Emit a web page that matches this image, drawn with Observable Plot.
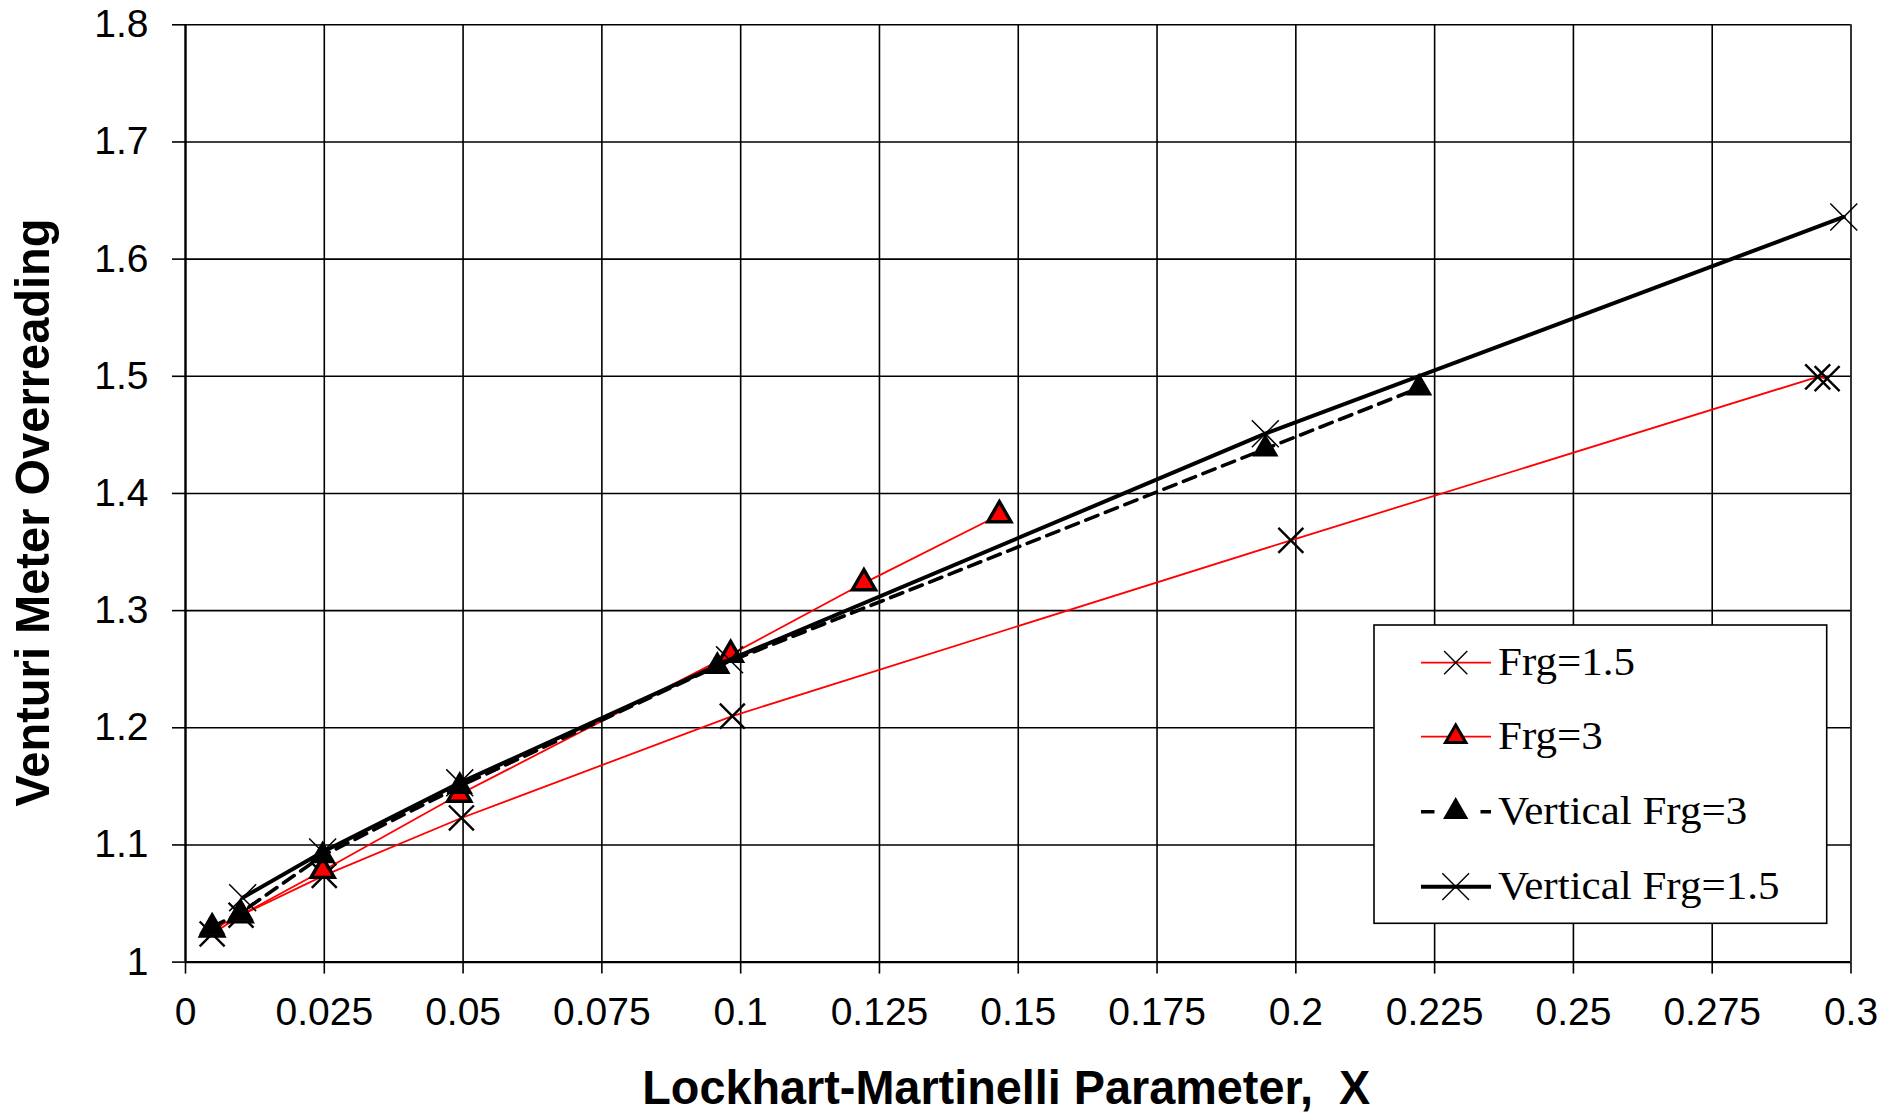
<!DOCTYPE html>
<html><head><meta charset="utf-8">
<script src="https://cdn.jsdelivr.net/npm/d3@7"></script>
<script src="https://cdn.jsdelivr.net/npm/@observablehq/plot@0.6"></script>
<style>
html,body{margin:0;padding:0;background:#fff;}
#wrap{position:relative;width:1901px;height:1114px;overflow:hidden;}
#legend{position:absolute;left:0;top:0;pointer-events:none;}
</style></head><body><div id="wrap"></div>
<script>
// ---- data ----
const xTicks = [0, 0.025, 0.05, 0.075, 0.1, 0.125, 0.15, 0.175, 0.2, 0.225, 0.25, 0.275, 0.3];
const xTickLabels = ["0", "0.025", "0.05", "0.075", "0.1", "0.125", "0.15", "0.175", "0.2", "0.225", "0.25", "0.275", "0.3"];
const yTicks = [1, 1.1, 1.2, 1.3, 1.4, 1.5, 1.6, 1.7, 1.8];
const yTickLabels = ["1", "1.1", "1.2", "1.3", "1.4", "1.5", "1.6", "1.7", "1.8"];
const seriesNames = ["Frg=1.5", "Frg=3", "Vertical Frg=3", "Vertical Frg=1.5"];
const xTitle = "Lockhart-Martinelli Parameter,  X";
const yTitle = "Venturi Meter Overreading";

const frg15X = [0.0048, 0.0100, 0.0250, 0.0497, 0.0985, 0.1991, 0.2940, 0.2957];
const frg15Y = [1.024, 1.040, 1.074, 1.123, 1.210, 1.360, 1.4995, 1.498];

const frg3X = [0.0048, 0.0099, 0.0247, 0.0493, 0.0982, 0.1222, 0.1466];
const frg3Y = [1.028, 1.040, 1.078, 1.143, 1.2624, 1.3235, 1.3816];

const vFrg3X = [0.0048, 0.0099, 0.0247, 0.0494, 0.0958, 0.1945, 0.2222];
const vFrg3Y = [1.030, 1.042, 1.0908, 1.150, 1.2525, 1.438, 1.490];

const vFrg15X = [0.0103, 0.0247, 0.0494, 0.0980, 0.1945, 0.2987];
const vFrg15Y = [1.055, 1.094, 1.153, 1.258, 1.451, 1.636];

// ---- build tables ----
const rows = (name, xs, ys) => xs.map((x, i) => ({series: name, x, y: ys[i]}));
const d15 = rows(seriesNames[0], frg15X, frg15Y);
const d3s = rows(seriesNames[1], frg3X, frg3Y);
const dv3 = rows(seriesNames[2], vFrg3X, vFrg3Y);
const dv15 = rows(seriesNames[3], vFrg15X, vFrg15Y);

const lab = (ticks, labels) => d => labels[ticks.findIndex(t => Math.abs(t - d) < 1e-9)];

const plot = Plot.plot({
  width: 1901, height: 1114,
  marginLeft: 185, marginRight: 50.5, marginTop: 24.3, marginBottom: 152.4,
  style: {fontFamily: "'Liberation Sans', Arial, sans-serif", fontSize: "39px", color: "#000", background: "#fff", overflow: "visible"},
  x: {domain: [0, 0.3]},
  y: {domain: [1, 1.8]},
  marks: [
    Plot.gridX(xTicks, {stroke: "#000", strokeOpacity: 1, strokeWidth: 1.6}),
    Plot.gridY(yTicks, {stroke: "#000", strokeOpacity: 1, strokeWidth: 1.6}),
    Plot.ruleX([0], {stroke: "#000", strokeWidth: 2.2}),
    Plot.ruleY([1], {stroke: "#000", strokeWidth: 2.2}),
    Plot.axisX(xTicks, {tickFormat: lab(xTicks, xTickLabels), tickSize: 12, tickPadding: 23, fontSize: 39,
      strokeWidth: 1.6, label: xTitle, labelAnchor: "center", labelOffset: 142, labelArrow: "none"}),
    Plot.axisY(yTicks, {tickFormat: lab(yTicks, yTickLabels), tickSize: 13, tickPadding: 24, fontSize: 39,
      strokeWidth: 1.6, label: yTitle, labelAnchor: "center", labelOffset: 171, labelArrow: "none"}),
    // Frg=1.5
    Plot.line(d15, {x: "x", y: "y", stroke: "#ff0000", strokeWidth: 1.8}),
    Plot.dot(d15, {x: "x", y: "y", symbol: "times", r: 11.4, stroke: "#000", strokeWidth: 2.4}),
    // Frg=3
    Plot.line(d3s, {x: "x", y: "y", stroke: "#ff0000", strokeWidth: 1.8}),
    Plot.dot(d3s, {x: "x", y: "y", symbol: "triangle", r: 8.6, fill: "#ff0000", stroke: "#000", strokeWidth: 3.4}),
    // Vertical Frg=3
    Plot.line(dv3, {x: "x", y: "y", stroke: "#000", strokeWidth: 3.6, strokeDasharray: "13,8"}),
    Plot.dot(dv3, {x: "x", y: "y", symbol: "triangle", r: 9.8, fill: "#000", stroke: "none"}),
    // Vertical Frg=1.5
    Plot.line(dv15, {x: "x", y: "y", stroke: "#000", strokeWidth: 4}),
    Plot.dot(dv15, {x: "x", y: "y", symbol: "times", r: 12.3, stroke: "#000", strokeWidth: 1.5})
  ]
});

const wrap = document.getElementById("wrap");
wrap.appendChild(plot);

// style axis titles (condensed bold)
const svg = d3.select(plot);
svg.selectAll('g[aria-label="x-axis label"] text')
  .text(xTitle)
  .attr("dx", -12)
  .attr("font-family", "'Liberation Sans', Arial, sans-serif")
  .attr("font-weight", "bold").attr("font-size", 48)
  .attr("textLength", 728).attr("lengthAdjust", "spacingAndGlyphs");
svg.selectAll('g[aria-label="y-axis label"] text')
  .text(yTitle)
  .attr("dx", -19)
  .attr("font-family", "'Liberation Sans', Arial, sans-serif")
  .attr("font-weight", "bold").attr("font-size", 49)
  .attr("textLength", 588).attr("lengthAdjust", "spacingAndGlyphs");

// ---- legend (overlay) ----
const lg = d3.select(wrap).append("svg").attr("id", "legend").attr("width", 1901).attr("height", 1114);
lg.append("rect").attr("x", 1374).attr("y", 625).attr("width", 452.7).attr("height", 298.3)
  .attr("fill", "#fff").attr("stroke", "#000").attr("stroke-width", 1.6);
const rowY = [662.7, 736.7, 811.7, 886.7];
const lx0 = 1421, lx1 = 1491, mx = 1455.7;
const sym = (type, r) => d3.symbol(type, r * r * Math.PI)();
seriesNames.forEach((name, i) => {
  const g = lg.append("g").attr("transform", `translate(0,${rowY[i]})`);
  if (i === 0) {
    g.append("line").attr("x1", lx0).attr("x2", lx1).attr("stroke", "#ff0000").attr("stroke-width", 1.8);
    g.append("path").attr("d", sym(d3.symbolTimes, 10.6)).attr("transform", `translate(${mx},0)`).attr("fill", "none").attr("stroke", "#000").attr("stroke-width", 1.4);
  } else if (i === 1) {
    g.append("line").attr("x1", lx0).attr("x2", lx1).attr("stroke", "#ff0000").attr("stroke-width", 1.8);
    g.append("path").attr("d", sym(d3.symbolTriangle, 7.6)).attr("transform", `translate(${mx},0)`).attr("fill", "#ff0000").attr("stroke", "#000").attr("stroke-width", 3);
  } else if (i === 2) {
    g.append("line").attr("x1", lx0).attr("x2", lx1).attr("stroke", "#000").attr("stroke-width", 3.6).attr("stroke-dasharray", "13.5,46,12");
    g.append("path").attr("d", sym(d3.symbolTriangle, 9.4)).attr("transform", `translate(${mx},0)`).attr("fill", "#000");
  } else {
    g.append("line").attr("x1", lx0).attr("x2", lx1).attr("stroke", "#000").attr("stroke-width", 4);
    g.append("path").attr("d", sym(d3.symbolTimes, 12.2)).attr("transform", `translate(${mx},0)`).attr("fill", "none").attr("stroke", "#000").attr("stroke-width", 1.4);
  }
  const t = g.append("text").attr("x", 1498).attr("y", 12.5).text(name)
    .attr("font-family", "'Liberation Serif', 'Times New Roman', serif").attr("font-size", 40).attr("fill", "#000");
  const w = t.node().getComputedTextLength();
  t.attr("textLength", w * 1.075).attr("lengthAdjust", "spacingAndGlyphs");
});
</script>
</body></html>
